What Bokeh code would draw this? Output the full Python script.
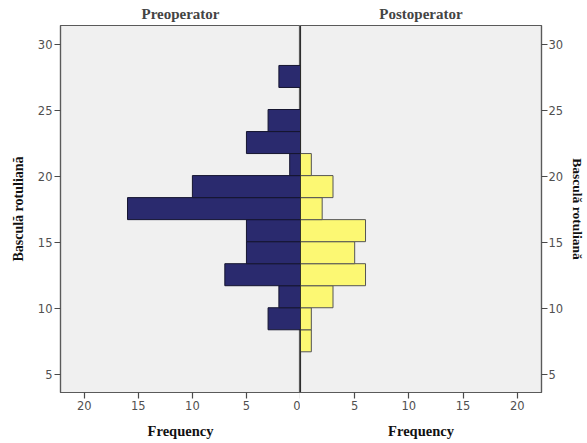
from bokeh.plotting import figure
from bokeh.layouts import row
from bokeh.models import Range1d, FixedTicker, Span
from bokeh.embed import file_html
from bokeh.resources import INLINE

# Data (histogram bins of "Basculă rotuliană")
bin_start = 6.72
bin_width = 5.0 / 3.0
bin_index = list(range(13))
preop_counts = [0, 3, 2, 7, 5, 5, 16, 10, 1, 5, 3, 0, 2]
postop_counts = [1, 1, 3, 6, 5, 6, 2, 3, 1, 0, 0, 0, 0]
y_ticks = [5, 10, 15, 20, 25, 30]
x_ticks_left = [0, 5, 10, 15, 20]
x_ticks_right = [5, 10, 15, 20]

centers = [bin_start + (i + 0.5) * bin_width for i in bin_index]

SERIF = "Liberation Serif"
SANS = "DejaVu Sans"
FRAME_COL = "#5a5a5a"
TICK_COL = "#4a4a4a"

y_range = Range1d(3.64, 31.41)


def style(p, title):
    p.title.text = title
    p.title.align = "center"
    p.title.text_font = SERIF
    p.title.text_font_style = "bold"
    p.title.text_font_size = "15px"
    p.title.offset = 0
    p.title.standoff = 4
    p.title.vertical_align = "top"
    p.background_fill_color = "#f0f0f0"
    p.border_fill_color = "white"
    p.outline_line_color = FRAME_COL
    p.outline_line_width = 1.2
    p.xgrid.visible = False
    p.ygrid.visible = False
    for ax in p.axis:
        ax.axis_line_color = FRAME_COL
        ax.axis_line_width = 1.2
        ax.major_tick_line_color = TICK_COL
        ax.major_tick_line_width = 1.2
        ax.major_tick_out = 6
        ax.major_tick_in = 0
        ax.minor_tick_line_color = None
        ax.major_label_text_font = SANS
        ax.major_label_text_font_size = "11.5px"
        ax.major_label_text_color = "#505050"
        ax.major_label_standoff = 2
        ax.axis_label_text_font = SERIF
        ax.axis_label_text_font_style = "bold"
        ax.axis_label_text_font_size = "14.5px"
        ax.axis_label_text_color = "#111111"


left = figure(width=300, height=443, frame_width=240, frame_height=367,
              x_range=Range1d(22.2, 0), y_range=y_range,
              output_backend="svg", toolbar_location=None,
              y_axis_location="left", min_border_left=60, min_border_right=0,
              min_border_top=25, min_border_bottom=51)
left.hbar(y=centers, height=bin_width, left=0, right=preop_counts,
          fill_color="#2a2a6e", line_color="#151530", line_width=1)
style(left, "Preoperator")
left.xaxis.ticker = FixedTicker(ticks=x_ticks_left)
left.yaxis.ticker = FixedTicker(ticks=y_ticks)
left.xaxis.axis_label = "Frequency"
left.yaxis.axis_label = "Basculă rotuliană"
left.yaxis.axis_label_text_font_size = "14px"
left.yaxis.axis_label_standoff = 9
left.xaxis.axis_label_standoff = 10

right = figure(width=287, height=443, frame_width=241, frame_height=367,
               x_range=Range1d(0, 22.24), y_range=y_range,
               output_backend="svg", toolbar_location=None,
               y_axis_location="right", min_border_left=0, min_border_right=46,
               min_border_top=25, min_border_bottom=51)
right.hbar(y=centers, height=bin_width, left=0, right=postop_counts,
           fill_color="#fcf873", line_color="#555555", line_width=1)
style(right, "Postoperator")
right.xaxis.ticker = FixedTicker(ticks=x_ticks_right)
right.yaxis.ticker = FixedTicker(ticks=y_ticks)
right.xaxis.axis_label = "Frequency"
right.yaxis.axis_label = "Basculă rotuliană"
right.yaxis.axis_label_text_font_size = "13.5px"
right.yaxis.axis_label_standoff = 4
right.yaxis.major_label_standoff = 1
right.xaxis.axis_label_standoff = 10

for p in (left, right):
    p.add_layout(Span(location=0, dimension="height", line_color="black", line_width=1))

layout = row(left, right, spacing=0)
open("out.html", "w").write(file_html(layout, INLINE))
